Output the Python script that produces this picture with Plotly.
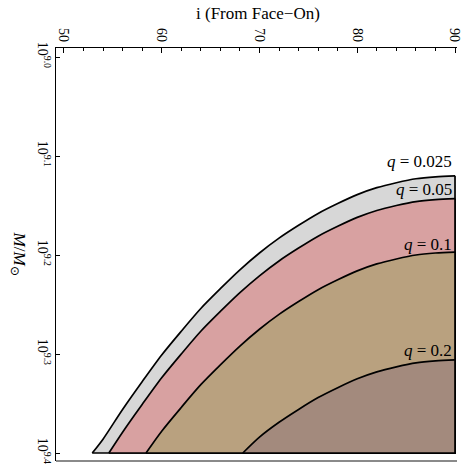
import plotly.graph_objects as go

# Inclination (deg, from face-on) and log10 mass along each boundary curve
i_q0025 = [52.9, 54, 56, 58, 60, 62, 64, 66, 68, 70, 72, 74, 76, 78, 80, 82, 84, 86, 88, 90]
m_q0025 = [9.400, 9.386, 9.356, 9.328, 9.301, 9.277, 9.254, 9.234, 9.215, 9.198,
           9.183, 9.170, 9.158, 9.148, 9.139, 9.132, 9.127, 9.123, 9.121, 9.120]

i_q005 = [54.6, 56, 58, 60, 62, 64, 66, 68, 70, 72, 74, 76, 78, 80, 82, 84, 86, 88, 90]
m_q005 = [9.400, 9.379, 9.351, 9.324, 9.300, 9.277, 9.257, 9.238, 9.221, 9.206,
          9.193, 9.181, 9.171, 9.162, 9.155, 9.150, 9.146, 9.144, 9.143]

i_q01 = [58.4, 60, 62, 64, 66, 68, 70, 72, 74, 76, 78, 80, 82, 84, 86, 88, 90]
m_q01 = [9.400, 9.378, 9.354, 9.331, 9.311, 9.292, 9.275, 9.260, 9.247, 9.235,
         9.225, 9.216, 9.209, 9.204, 9.200, 9.198, 9.197]

i_q02 = [68.3, 70, 72, 74, 76, 78, 80, 82, 84, 86, 88, 90]
m_q02 = [9.400, 9.384, 9.369, 9.356, 9.344, 9.334, 9.325, 9.318, 9.313, 9.309, 9.307, 9.306]

labels = ["q = 0.025", "q = 0.05", "q = 0.1", "q = 0.2"]
label_y = [9.106, 9.134, 9.189, 9.296]
colors = ["#d7d7d7", "#d8a1a1", "#b9a17f", "#a38a7d"]

x_ticks = [50, 60, 70, 80, 90]
y_ticks = [9.0, 9.1, 9.2, 9.3, 9.4]
y_ticktext = ["10<sup>%.1f</sup>" % v for v in y_ticks]

M_MAX = 9.4
I_MAX = 90

FONT = "Liberation Serif"

fig = go.Figure()
curves = [(i_q0025, m_q0025), (i_q005, m_q005), (i_q01, m_q01), (i_q02, m_q02)]
for (xs, ys), col in zip(curves, colors):
    # filled region (no outline)
    fig.add_trace(go.Scatter(
        x=list(xs) + [I_MAX, xs[0]],
        y=list(ys) + [M_MAX, M_MAX],
        mode="lines", fill="toself", fillcolor=col,
        line=dict(color="rgba(0,0,0,0)", width=0),
        hoverinfo="skip", showlegend=False,
    ))
    # smooth boundary curve
    fig.add_trace(go.Scatter(
        x=xs, y=ys, mode="lines",
        line=dict(color="black", width=1.7, shape="spline", smoothing=0.8),
        hoverinfo="skip", showlegend=False,
    ))
    # straight right and bottom edges
    fig.add_trace(go.Scatter(
        x=[I_MAX, I_MAX, xs[0]], y=[ys[-1], M_MAX, M_MAX], mode="lines",
        line=dict(color="black", width=1.7),
        hoverinfo="skip", showlegend=False,
    ))

for txt, yv in zip(labels, label_y):
    q, rest = txt.split(" ", 1)
    fig.add_annotation(
        x=I_MAX, y=yv, xref="x", yref="y",
        text="<i>%s</i> %s" % (q, rest),
        showarrow=False, xanchor="right", yanchor="middle", xshift=-1,
        font=dict(family=FONT, size=17, color="black"),
    )

# plot area in px: left 56, right 462, top 48, bottom 461
L, R, T, B = 56, 462, 48, 461
W = R - L
H = B - T

fig.add_annotation(
    text="<i>M</i>/<i>M</i><sub>⊙</sub>", textangle=90,
    xref="paper", yref="paper",
    x=(18 - L) / W, y=(B - 254) / H,
    showarrow=False, xanchor="center", yanchor="middle",
    font=dict(family=FONT, size=17, color="black"),
)
fig.add_annotation(
    text="i (From Face−On)",
    xref="paper", yref="paper",
    x=(261 - L) / W, y=(B - 13) / H,
    showarrow=False, xanchor="center", yanchor="middle",
    font=dict(family=FONT, size=17, color="black"),
)

# bottom grey frame line
fig.add_shape(type="line", xref="paper", yref="paper", x0=0, x1=1, y0=0, y1=0,
              line=dict(color="#8a8a8a", width=2))

x_left = 50 - (64 - L) / 9.9
x_right = 90 + (R - 460) / 9.9
y_top = 9.0 - (57 - T) / 990
y_bot = 9.4 + (B - 453) / 990

fig.update_xaxes(
    side="top", range=[x_left, x_right], tickvals=x_ticks,
    ticktext=[str(v) for v in x_ticks], tickangle=90,
    ticklabeloverflow="allow",
    ticks="inside", ticklen=5, tickwidth=1, tickcolor="black",
    minor=dict(dtick=2, tick0=50, ticks="inside", ticklen=3, tickcolor="black"),
    showline=True, linecolor="black", linewidth=1.2,
    showgrid=False, zeroline=False,
    tickfont=dict(family=FONT, size=14, color="black"),
)
fig.update_yaxes(
    range=[y_bot, y_top], tickvals=y_ticks, ticktext=y_ticktext, tickangle=90,
    ticklabeloverflow="allow",
    ticks="inside", ticklen=4, tickwidth=1, tickcolor="black",
    showline=True, linecolor="black", linewidth=1.2,
    showgrid=False, zeroline=False,
    tickfont=dict(family=FONT, size=14, color="black"),
)

fig.update_layout(
    width=462, height=474,
    margin=dict(l=L, r=462 - R, t=T, b=474 - B),
    plot_bgcolor="white", paper_bgcolor="white",
    showlegend=False,
)

fig.write_html("out.html")
